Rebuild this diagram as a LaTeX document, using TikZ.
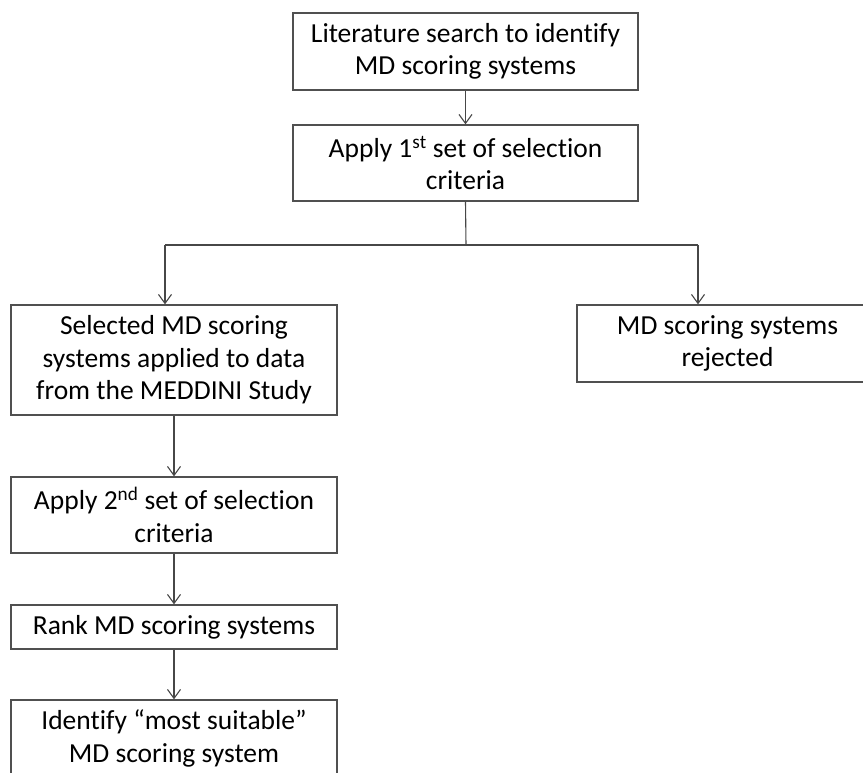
\documentclass[tikz,border=0pt]{standalone}
\usepackage{fontspec}
\setmainfont{Carlito}[Ligatures={NoCommon}]
\usetikzlibrary{arrows.meta}
\definecolor{boxgray}{HTML}{505050}
\definecolor{linegray}{HTML}{474747}
\begin{document}
\begin{tikzpicture}[x=1pt,y=-1pt,
  box/.style={draw=boxgray,line width=1.3pt,rectangle,inner sep=0pt,align=center,
    font=\fontsize{27.5}{32.5}\selectfont,text=black},
  conn/.style={draw=linegray,line width=1.1pt,-{Straight Barb[length=9pt,width=13pt,line width=1.1pt]}},
  plain/.style={draw=linegray,line width=1.1pt}]
\clip (0,0) rectangle (863,772);
\fill[white] (0,0) rectangle (863,772);
\node[box,minimum width=345pt,minimum height=77pt] (lit) at (465.5,51.5)
  {Literature search to identify\\MD scoring systems};
\node[box,minimum width=345pt,minimum height=76pt] (first) at (465.5,163)
  {Apply 1\textsuperscript{st} set of selection\\criteria};
\node[box,minimum width=326pt,minimum height=110pt] (sel) at (174,360)
  {Selected MD scoring\\systems applied to data\\from the MEDDINI Study};
\node[box,minimum width=301pt,minimum height=77pt] (rej) at (727.5,343.5)
  {MD scoring systems\\rejected};
\node[box,minimum width=326pt,minimum height=76pt] (second) at (174,515)
  {Apply 2\textsuperscript{nd} set of selection\\criteria};
\node[box,minimum width=326pt,minimum height=44pt] (rank) at (174,627)
  {Rank MD scoring systems};
\node[box,minimum width=326pt,minimum height=77pt] (ident) at (174,738.5)
  {Identify “most suitable”\\MD scoring system};
\coordinate (split) at (466,245);
\coordinate (splitL) at (165,245);
\coordinate (splitR) at (698,245);
\draw[conn] (lit.south) -- (first.north);
\draw[plain] (first.south) -- (split);
\draw[plain] (splitL) -- (splitR);
\draw[conn] (splitL) -- (splitL |- sel.north);
\draw[conn] (splitR) -- (splitR |- rej.north);
\draw[conn] (sel.south) -- (second.north);
\draw[conn] (second.south) -- (rank.north);
\draw[conn] (rank.south) -- (ident.north);
\end{tikzpicture}
\end{document}
